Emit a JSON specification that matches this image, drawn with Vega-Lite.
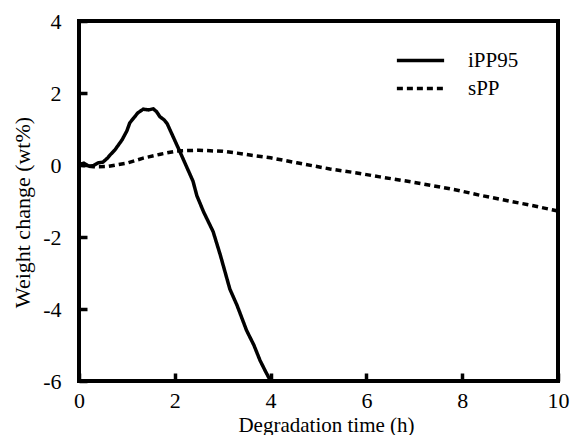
{
  "$schema": "https://vega.github.io/schema/vega-lite/v6.json",
  "width": 479,
  "height": 360,
  "autosize": {"type": "none"},
  "padding": {"left": 79, "top": 21, "right": 14, "bottom": 54},
  "background": "white",
  "config": {
    "view": {"stroke": "black", "strokeWidth": 4},
    "font": "Times New Roman",
    "axis": {
      "domain": false,
      "grid": false,
      "tickColor": "black",
      "tickWidth": 3.5,
      "tickSize": -8,
      "labelFont": "Times New Roman",
      "labelFontSize": 22,
      "labelColor": "black",
      "titleFont": "Times New Roman",
      "titleFontSize": 22,
      "titleFontWeight": "normal",
      "titleColor": "black"
    }
  },
  "data": {
    "values": [
      {"series": "iPP95", "t": 0.0, "w": 0.02},
      {"series": "iPP95", "t": 0.1, "w": 0.05},
      {"series": "iPP95", "t": 0.2, "w": -0.03},
      {"series": "iPP95", "t": 0.3, "w": -0.02},
      {"series": "iPP95", "t": 0.4, "w": 0.06},
      {"series": "iPP95", "t": 0.5, "w": 0.08},
      {"series": "iPP95", "t": 0.6, "w": 0.2},
      {"series": "iPP95", "t": 0.65, "w": 0.28},
      {"series": "iPP95", "t": 0.75, "w": 0.42},
      {"series": "iPP95", "t": 0.9, "w": 0.7},
      {"series": "iPP95", "t": 1.0, "w": 0.95},
      {"series": "iPP95", "t": 1.06, "w": 1.17},
      {"series": "iPP95", "t": 1.15, "w": 1.32},
      {"series": "iPP95", "t": 1.23, "w": 1.45},
      {"series": "iPP95", "t": 1.34, "w": 1.55},
      {"series": "iPP95", "t": 1.45, "w": 1.53},
      {"series": "iPP95", "t": 1.55, "w": 1.56},
      {"series": "iPP95", "t": 1.62, "w": 1.48},
      {"series": "iPP95", "t": 1.69, "w": 1.34},
      {"series": "iPP95", "t": 1.78, "w": 1.25},
      {"series": "iPP95", "t": 1.84, "w": 1.15},
      {"series": "iPP95", "t": 1.96, "w": 0.8},
      {"series": "iPP95", "t": 2.11, "w": 0.36},
      {"series": "iPP95", "t": 2.25, "w": -0.06},
      {"series": "iPP95", "t": 2.38, "w": -0.45},
      {"series": "iPP95", "t": 2.46, "w": -0.85},
      {"series": "iPP95", "t": 2.6, "w": -1.3},
      {"series": "iPP95", "t": 2.8, "w": -1.85},
      {"series": "iPP95", "t": 2.95, "w": -2.5},
      {"series": "iPP95", "t": 3.15, "w": -3.45},
      {"series": "iPP95", "t": 3.3, "w": -3.9},
      {"series": "iPP95", "t": 3.5, "w": -4.6},
      {"series": "iPP95", "t": 3.65, "w": -5.0},
      {"series": "iPP95", "t": 3.78, "w": -5.43},
      {"series": "iPP95", "t": 3.9, "w": -5.75},
      {"series": "iPP95", "t": 4.0, "w": -6.0},
      {"series": "sPP", "t": 0.0, "w": 0.0},
      {"series": "sPP", "t": 0.3, "w": -0.05},
      {"series": "sPP", "t": 0.6, "w": -0.04},
      {"series": "sPP", "t": 1.0, "w": 0.05},
      {"series": "sPP", "t": 1.34, "w": 0.19},
      {"series": "sPP", "t": 1.7, "w": 0.3},
      {"series": "sPP", "t": 2.04, "w": 0.39},
      {"series": "sPP", "t": 2.5, "w": 0.41},
      {"series": "sPP", "t": 3.0, "w": 0.38},
      {"series": "sPP", "t": 3.3, "w": 0.33},
      {"series": "sPP", "t": 3.6, "w": 0.27},
      {"series": "sPP", "t": 4.0, "w": 0.2},
      {"series": "sPP", "t": 4.55, "w": 0.06},
      {"series": "sPP", "t": 5.24, "w": -0.11},
      {"series": "sPP", "t": 5.8, "w": -0.22},
      {"series": "sPP", "t": 6.28, "w": -0.33},
      {"series": "sPP", "t": 6.8, "w": -0.44},
      {"series": "sPP", "t": 7.33, "w": -0.56},
      {"series": "sPP", "t": 7.9, "w": -0.7},
      {"series": "sPP", "t": 8.37, "w": -0.84},
      {"series": "sPP", "t": 8.9, "w": -0.98},
      {"series": "sPP", "t": 9.4, "w": -1.11},
      {"series": "sPP", "t": 9.9, "w": -1.25},
      {"series": "sPP", "t": 10.0, "w": -1.28}
    ]
  },
  "mark": {"type": "line", "color": "black", "strokeWidth": 3.5},
  "encoding": {
    "x": {
      "field": "t",
      "type": "quantitative",
      "scale": {"domain": [0, 10], "nice": false},
      "axis": {
        "values": [0, 2, 4, 6, 8, 10],
        "title": "Degradation time (h)",
        "labelPadding": 17,
        "labelFlush": false,
        "titleFontSize": 21,
        "titleX": 247,
        "titleY": 44,
        "titleBaseline": "middle"
      }
    },
    "y": {
      "field": "w",
      "type": "quantitative",
      "scale": {"domain": [-6, 4], "nice": false, "zero": false},
      "axis": {
        "values": [-6, -4, -2, 0, 2, 4],
        "labelExpr": "datum.value < 0 ? '-' + abs(datum.value) : '' + datum.value",
        "title": "Weight change (wt%)",
        "labelPadding": 26,
        "labelFlush": false,
        "titleX": -57,
        "titleY": 191,
        "titleAngle": -90,
        "titleBaseline": "middle",
        "titleAlign": "center"
      }
    },
    "strokeDash": {
      "field": "series",
      "type": "nominal",
      "scale": {"domain": ["iPP95", "sPP"], "range": [[1, 0], [6, 4]]},
      "legend": {
        "title": null,
        "orient": "none",
        "legendX": 329,
        "legendY": 27,
        "padding": 0,
        "symbolType": "M-2.25,0H2.25",
        "symbolSize": 441,
        "symbolStrokeWidth": 3.5,
        "symbolStrokeColor": "black",
        "symbolFillColor": "transparent",
        "labelFont": "Times New Roman",
        "labelFontSize": 21,
        "labelColor": "black",
        "labelOffset": 35,
        "rowPadding": 5
      }
    }
  }
}
